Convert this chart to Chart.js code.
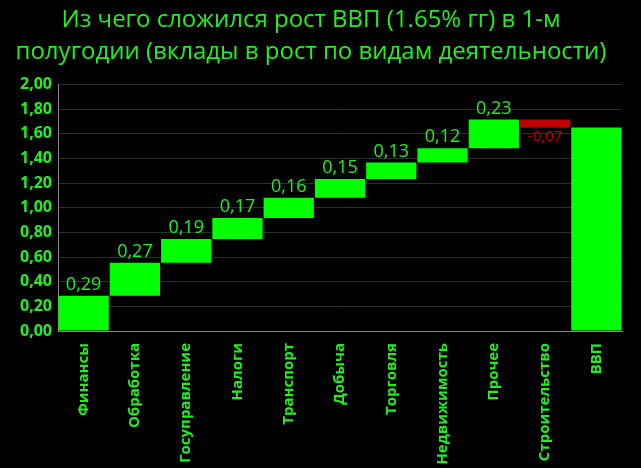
<!DOCTYPE html>
<html>
<head>
<meta charset="utf-8">
<script src="https://cdn.jsdelivr.net/npm/chart.js@4.4.0/dist/chart.umd.min.js"></script>
<style>
  html, body { margin: 0; padding: 0; background: #000; }
  #wrap { width: 641px; height: 468px; }
</style>
</head>
<body>
<div id="wrap"><canvas id="myChart" width="641" height="468"></canvas></div>
<script>
var categories = [
  "Финансы", "Обработка", "Госуправление", "Налоги", "Транспорт",
  "Добыча", "Торговля", "Недвижимость", "Прочее", "Строительство", "ВВП"
];
// contributions to growth, p.p.
var contributions = [0.286, 0.267, 0.194, 0.17, 0.164, 0.151, 0.134, 0.116, 0.234, -0.067];
var total = 1.65;
var yTicks = [0, 0.2, 0.4, 0.6, 0.8, 1.0, 1.2, 1.4, 1.6, 1.8, 2.0];

var GREEN = "#00ff00";
var TEXT_GREEN = "#22ee22";
var RED = "#c00000";

// floating bars [start, end]
var ranges = [];
var colors = [];
var run = 0;
for (var i = 0; i < contributions.length; i++) {
  ranges.push([run, run + contributions[i]]);
  colors.push(contributions[i] < 0 ? RED : GREEN);
  run += contributions[i];
}
ranges.push([0, total]);
colors.push(GREEN);

function fmt(v) {
  return v.toFixed(2).replace(".", ",");
}

var valueLabels = {
  id: "valueLabels",
  afterDatasetsDraw: function (chart) {
    var ctx = chart.ctx;
    var meta = chart.getDatasetMeta(0);
    ctx.save();
    ctx.textAlign = "center";
    meta.data.forEach(function (bar, i) {
      if (i >= contributions.length) return;
      var v = contributions[i];
      if (v >= 0) {
        ctx.fillStyle = TEXT_GREEN;
        ctx.font = "18px 'Open Sans'";
        ctx.textBaseline = "bottom";
        ctx.fillText(fmt(v), bar.x, Math.min(bar.y, bar.base) - 2);
      } else {
        ctx.fillStyle = RED;
        ctx.font = "15px 'Open Sans'";
        ctx.textBaseline = "top";
        ctx.fillText(fmt(v), bar.x, Math.max(bar.y, bar.base) + 2);
      }
    });
    ctx.restore();
  }
};

var ctx = document.getElementById("myChart").getContext("2d");
var myChart = new Chart(ctx, {
  type: "bar",
  data: {
    labels: categories,
    datasets: [{
      data: ranges,
      backgroundColor: colors,
      borderWidth: 0,
      barPercentage: 0.98,
      categoryPercentage: 1.0
    }]
  },
  options: {
    responsive: false,
    animation: false,
    layout: { padding: { left: 0, right: 19, top: 0, bottom: 0 } },
    plugins: {
      legend: { display: false },
      tooltip: { enabled: false },
      title: {
        display: true,
        text: ["Из чего сложился рост ВВП (1.65% гг) в 1-м",
               "полугодии (вклады в рост по видам деятельности)"],
        color: TEXT_GREEN,
        font: { family: "'Open Sans'", size: 24, weight: "normal", lineHeight: 1.3 },
        padding: { top: 5, bottom: 17 }
      }
    },
    scales: {
      x: {
        grid: { display: false },
        border: { color: "#888888", width: 1 },
        ticks: {
          color: TEXT_GREEN,
          font: { family: "'Open Sans'", size: 15, weight: "bold" },
          minRotation: 90,
          maxRotation: 90,
          padding: 4
        },
        afterFit: function (scale) { scale.height = 137; }
      },
      y: {
        min: 0,
        max: 2,
        afterBuildTicks: function (scale) {
          scale.ticks = yTicks.map(function (v) { return { value: v }; });
        },
        grid: { color: "#2e2e2e", drawTicks: false },
        border: { color: "#888888", width: 1 },
        ticks: {
          color: TEXT_GREEN,
          font: { family: "'Open Sans'", size: 16, weight: "bold" },
          padding: 6,
          callback: function (v) { return fmt(v); }
        },
        afterFit: function (scale) { scale.width = 58; }
      }
    }
  },
  plugins: [valueLabels]
});
</script>
</body>
</html>
